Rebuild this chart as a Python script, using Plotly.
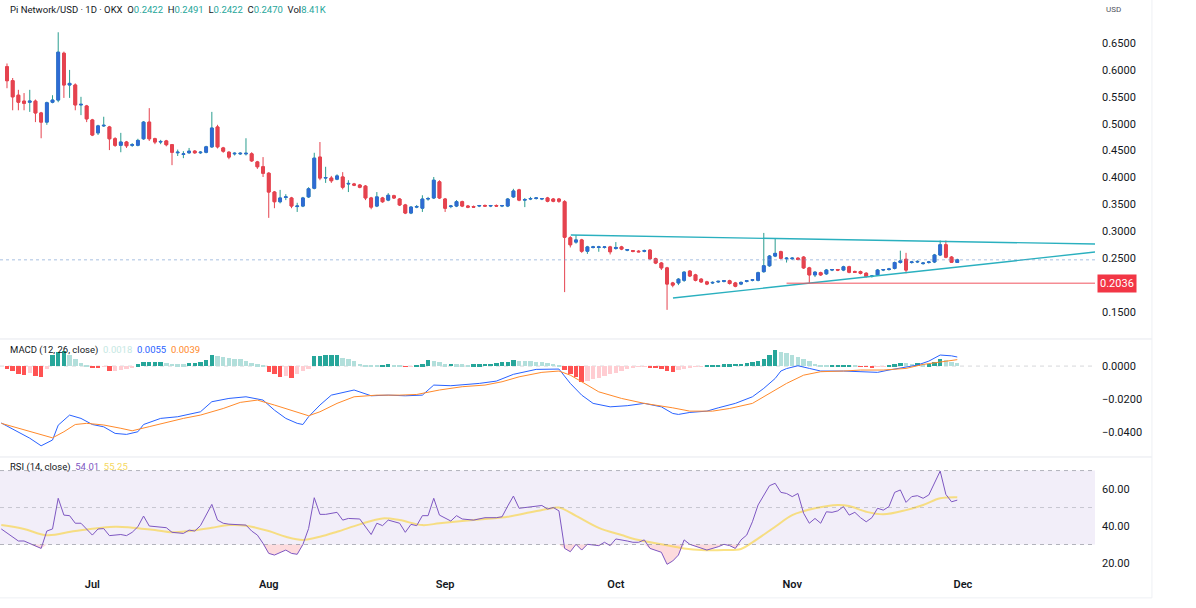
import plotly.graph_objects as go
import pandas as pd
import numpy as np

# ---------------- data ----------------
start_date = pd.Timestamp("2025-06-16")
n_days = 168

opens = [0.606,0.580,0.553,0.542,0.540,0.542,0.520,0.503,0.540,0.544,
         0.631,0.572,0.572,0.535,0.533,0.507,0.483,0.496,0.494,0.472,
         0.460,0.466,0.460,0.460,0.472,0.503,0.472,0.466,0.468,0.461,
         0.446,0.443,0.446,0.449,0.446,0.447,0.457,0.494,0.455,0.447,
         0.444,0.444,0.444,0.444,0.429,0.420,0.408,0.373,0.355,0.363,
         0.362,0.346,0.347,0.364,0.380,0.438,0.399,0.399,0.397,0.401,
         0.388,0.388,0.386,0.384,0.362,0.347,0.362,0.358,0.366,0.360,
         0.349,0.334,0.345,0.343,0.360,0.362,0.392,0.360,0.346,0.347,
         0.355,0.347,0.346,0.347,0.348,0.347,0.348,0.347,0.347,0.364,
         0.377,0.358,0.360,0.361,0.360,0.362,0.360,0.360,0.355,0.288,
         0.280,0.284,0.263,0.270,0.270,0.270,0.271,0.268,0.271,0.265,
         0.264,0.263,0.263,0.265,0.249,0.241,0.232,0.204,0.204,0.209,
         0.226,0.219,0.211,0.206,0.204,0.206,0.207,0.208,0.204,0.202,
         0.207,0.209,0.209,0.225,0.236,0.254,0.262,0.249,0.249,0.250,
         0.252,0.232,0.219,0.223,0.221,0.228,0.229,0.228,0.234,0.225,
         0.225,0.222,0.216,0.219,0.228,0.229,0.231,0.242,0.248,0.242,
         0.243,0.240,0.242,0.243,0.256,0.275,0.252,0.2422]
highs = [0.612,0.585,0.563,0.557,0.563,0.545,0.522,0.541,0.553,0.670,
         0.634,0.600,0.575,0.550,0.535,0.509,0.498,0.513,0.496,0.475,
         0.483,0.468,0.464,0.472,0.505,0.529,0.474,0.470,0.470,0.462,
         0.452,0.449,0.455,0.451,0.449,0.459,0.522,0.498,0.457,0.449,
         0.447,0.447,0.473,0.447,0.431,0.438,0.410,0.375,0.377,0.369,
         0.364,0.353,0.364,0.382,0.446,0.466,0.420,0.403,0.406,0.410,
         0.395,0.390,0.388,0.386,0.364,0.373,0.364,0.371,0.368,0.362,
         0.351,0.347,0.349,0.367,0.364,0.401,0.395,0.362,0.349,0.358,
         0.357,0.349,0.348,0.349,0.350,0.349,0.350,0.349,0.362,0.379,
         0.379,0.362,0.364,0.363,0.362,0.364,0.362,0.362,0.358,0.291,
         0.293,0.286,0.273,0.273,0.273,0.272,0.273,0.280,0.273,0.267,
         0.265,0.265,0.266,0.267,0.251,0.243,0.234,0.206,0.213,0.226,
         0.228,0.221,0.213,0.208,0.207,0.208,0.209,0.210,0.206,0.207,
         0.209,0.211,0.225,0.297,0.256,0.286,0.264,0.252,0.252,0.252,
         0.254,0.234,0.226,0.225,0.230,0.230,0.230,0.236,0.236,0.227,
         0.227,0.224,0.218,0.230,0.230,0.232,0.244,0.264,0.260,0.245,
         0.246,0.243,0.245,0.258,0.283,0.283,0.254,0.2491]
lows = [0.566,0.525,0.525,0.525,0.522,0.503,0.473,0.498,0.538,0.540,
        0.548,0.548,0.525,0.516,0.503,0.477,0.479,0.494,0.451,0.457,
        0.447,0.455,0.457,0.458,0.470,0.468,0.462,0.462,0.458,0.423,
        0.440,0.436,0.444,0.444,0.444,0.445,0.455,0.454,0.446,0.434,
        0.441,0.442,0.441,0.429,0.416,0.401,0.325,0.343,0.352,0.358,
        0.343,0.336,0.345,0.362,0.378,0.395,0.390,0.390,0.395,0.378,
        0.373,0.384,0.380,0.358,0.341,0.345,0.353,0.356,0.360,0.347,
        0.332,0.332,0.343,0.336,0.357,0.360,0.360,0.336,0.343,0.345,
        0.345,0.343,0.344,0.345,0.346,0.345,0.346,0.345,0.345,0.362,
        0.356,0.345,0.358,0.359,0.358,0.354,0.354,0.353,0.187,0.270,
        0.277,0.260,0.258,0.268,0.262,0.268,0.257,0.266,0.265,0.263,
        0.261,0.261,0.261,0.247,0.239,0.228,0.154,0.196,0.200,0.206,
        0.215,0.207,0.204,0.200,0.202,0.204,0.205,0.201,0.196,0.200,
        0.205,0.207,0.207,0.223,0.234,0.252,0.248,0.242,0.247,0.246,
        0.230,0.204,0.215,0.217,0.219,0.226,0.226,0.226,0.222,0.223,
        0.220,0.214,0.214,0.217,0.226,0.227,0.229,0.240,0.222,0.240,
        0.241,0.238,0.240,0.241,0.254,0.250,0.242,0.2422]
closes = [0.580,0.550,0.540,0.538,0.542,0.520,0.503,0.539,0.544,0.633,
          0.572,0.575,0.535,0.536,0.509,0.479,0.496,0.497,0.472,0.460,
          0.466,0.459,0.461,0.469,0.503,0.472,0.466,0.467,0.461,0.447,
          0.447,0.444,0.449,0.446,0.447,0.457,0.492,0.457,0.449,0.438,
          0.445,0.445,0.445,0.431,0.420,0.408,0.373,0.355,0.362,0.364,
          0.347,0.347,0.362,0.379,0.436,0.399,0.400,0.394,0.403,0.382,
          0.389,0.386,0.382,0.362,0.345,0.364,0.355,0.367,0.362,0.349,
          0.334,0.345,0.346,0.360,0.361,0.395,0.362,0.343,0.347,0.355,
          0.347,0.345,0.345,0.348,0.347,0.348,0.347,0.348,0.360,0.375,
          0.358,0.359,0.361,0.362,0.361,0.356,0.356,0.356,0.289,0.275,
          0.284,0.263,0.271,0.271,0.271,0.271,0.262,0.270,0.267,0.266,
          0.263,0.262,0.264,0.249,0.241,0.232,0.202,0.200,0.211,0.224,
          0.217,0.209,0.206,0.202,0.205,0.207,0.208,0.203,0.198,0.205,
          0.208,0.210,0.223,0.236,0.254,0.259,0.250,0.250,0.250,0.248,
          0.232,0.219,0.224,0.219,0.228,0.229,0.228,0.234,0.224,0.224,
          0.222,0.216,0.217,0.228,0.229,0.230,0.242,0.245,0.228,0.243,
          0.244,0.241,0.243,0.256,0.275,0.252,0.2425,0.2470]

macd_hist = [-0.0020,-0.0030,-0.0045,-0.0055,-0.0040,-0.0060,-0.0065,-0.0020,0.0067,0.0083,
             0.0091,0.0065,0.0040,0.0020,0.0005,-0.0006,-0.0008,-0.0005,-0.0030,-0.0028,
             -0.0022,-0.0015,-0.0008,0.0010,0.0025,0.0026,0.0026,0.0027,0.0020,0.0015,
             0.0012,0.0010,0.0016,0.0020,0.0025,0.0035,0.0065,0.0060,0.0055,0.0050,
             0.0045,0.0040,0.0030,0.0020,0.0010,0.0003,-0.0035,-0.0050,-0.0065,-0.0060,
             -0.0070,-0.0050,-0.0030,-0.0015,0.0060,0.0063,0.0065,0.0066,0.0067,0.0050,
             0.0040,0.0030,0.0015,0.0008,0.0003,0.0002,0.0008,0.0010,0.0006,0.0002,
             -0.0005,-0.0002,0.0002,0.0012,0.0035,0.0030,0.0022,0.0012,0.0015,0.0012,
             0.0010,0.0008,0.0010,0.0012,0.0013,0.0015,0.0018,0.0022,0.0025,0.0035,
             0.0031,0.0030,0.0028,0.0027,0.0025,0.0020,0.0015,0.0008,-0.0025,-0.0045,
             -0.0065,-0.0095,-0.0090,-0.0080,-0.0070,-0.0060,-0.0050,-0.0040,-0.0030,-0.0020,
             -0.0012,-0.0005,-0.0003,-0.0006,-0.0010,-0.0015,-0.0030,-0.0035,-0.0025,-0.0015,
             -0.0008,-0.0003,-0.0001,0.0003,0.0005,0.0008,0.0010,0.0012,0.0013,0.0015,
             0.0018,0.0022,0.0030,0.0045,0.0065,0.0095,0.0088,0.0078,0.0066,0.0055,
             0.0040,0.0028,0.0015,0.0006,0.0002,0.0003,0.0005,0.0007,0.0008,0.0002,
             -0.0002,-0.0004,-0.0006,-0.0003,-0.0001,0.0005,0.0010,0.0018,0.0016,0.0015,
             0.0016,0.0010,0.0012,0.0025,0.0042,0.0035,0.0025,0.0018]

macd_day = [-1,2,4,6,8,9,11,13,15,17,19,21,23,24,27,30,34,36,39,42,45,47,49,51,52,53,55,57,
            61,64,67,70,73,75,78,83,86,89,93,97,99,101,103,106,109,112,115,117,118,120,123,
            125,128,131,133,135,136,137,139,141,143,147,150,153,155,158,160,162,164,166,167]
macd_val = [-0.0345,-0.0398,-0.0437,-0.0483,-0.0448,-0.0358,-0.0297,-0.0317,-0.0354,-0.0368,
            -0.0408,-0.0414,-0.0398,-0.0354,-0.0317,-0.0307,-0.0277,-0.0216,-0.0196,-0.0186,
            -0.0206,-0.0267,-0.0317,-0.0347,-0.0354,-0.0307,-0.0236,-0.0176,-0.0145,-0.0180,
            -0.0176,-0.0180,-0.0176,-0.0115,-0.0119,-0.0105,-0.0091,-0.0050,-0.0020,-0.0018,
            -0.0105,-0.0176,-0.0226,-0.0247,-0.0240,-0.0226,-0.0247,-0.0287,-0.0293,-0.0281,
            -0.0273,-0.0253,-0.0226,-0.0186,-0.0135,-0.0075,-0.0030,-0.0015,0.0002,-0.0014,
            -0.0030,-0.0030,-0.0034,-0.0038,-0.0024,-0.0004,0.0006,0.0030,0.0067,0.0062,0.0055]

signal_day = [-1,3,6,8,10,12,14,17,20,22,25,28,31,34,38,41,44,47,51,53,55,58,61,65,69,72,
              76,80,84,87,90,94,97,99,101,104,108,112,117,120,124,127,131,134,137,140,143,
              147,150,154,158,161,164,167]
signal_val = [-0.0347,-0.0386,-0.0420,-0.0435,-0.0398,-0.0354,-0.0347,-0.0357,-0.0377,-0.0392,
              -0.0367,-0.0341,-0.0317,-0.0297,-0.0257,-0.0220,-0.0206,-0.0236,-0.0280,-0.0301,
              -0.0277,-0.0226,-0.0186,-0.0176,-0.0176,-0.0172,-0.0145,-0.0125,-0.0115,-0.0095,
              -0.0065,-0.0038,-0.0030,-0.0055,-0.0095,-0.0156,-0.0196,-0.0226,-0.0253,-0.0273,
              -0.0273,-0.0257,-0.0226,-0.0166,-0.0105,-0.0055,-0.0034,-0.0030,-0.0024,-0.0024,
              -0.0014,0.0010,0.0026,0.0039]

rsi_day = [-1,1,2,3,4,6,7,8,9,10,11,12,13,15,16,17,18,20,21,22,23,24,25,26,28,29,31,32,33,34,
           36,37,38,39,40,42,43,44,45,46,47,49,50,51,52,53,54,55,56,58,59,60,62,64,65,66,67,
           69,70,71,72,73,74,75,76,78,79,80,82,84,86,87,88,89,90,92,94,95,96,97,98,99,100,
           101,102,104,105,106,107,109,110,111,112,113,115,116,117,118,119,120,122,123,125,
           126,127,128,129,130,131,132,134,135,136,137,138,139,140,141,142,143,144,145,146,
           147,148,149,150,151,152,153,154,155,156,157,158,159,160,161,162,164,165,166,167]
rsi_val = [38.4,34.2,31.9,31.9,30.6,27.9,37.3,38.4,55.0,45.9,45.6,41.5,41.5,35.1,38.4,38.6,
           34.8,35.4,34.8,36.6,39.6,45.4,40.0,39.6,39.1,36.6,36.0,37.8,37.3,40.2,51.7,43.2,
           41.5,41.0,40.9,40.5,37.3,35.1,30.6,25.2,24.3,27.0,25.2,24.7,30.0,38.6,55.3,46.3,
           46.3,47.4,43.2,44.1,43.8,35.4,41.5,40.2,43.2,41.5,36.6,40.9,40.2,45.6,45.6,55.0,
           45.9,42.7,45.6,43.8,43.2,44.5,44.5,45.0,50.8,56.2,49.6,50.5,51.1,49.2,50.0,48.2,
           27.9,26.1,30.1,27.0,30.1,29.4,31.2,29.4,33.0,31.9,31.2,31.2,32.5,27.9,25.8,19.3,
           21.1,24.3,32.5,30.1,27.9,27.0,28.8,30.1,29.4,27.9,32.5,35.1,42.3,51.4,61.8,63.1,
           58.2,57.6,55.9,57.6,46.9,41.5,44.1,41.5,47.7,47.4,48.2,50.5,45.9,47.4,44.5,42.3,
           44.5,49.6,48.6,50.5,58.2,59.5,52.8,55.9,56.4,55.0,56.8,69.7,57.1,53.1,54.0]

rsi_ma_day = [-1,3,7,12,19,22,26,29,32,36,39,42,46,49,52,55,58,62,66,69,73,76,80,84,88,92,95,
              97,100,104,108,111,115,119,122,126,129,131,135,138,142,146,148,151,154,158,161,
              164,167]
rsi_ma_val = [40.5,38.4,35.0,37.3,39.6,39.1,37.8,36.6,37.3,39.1,40.5,40.2,37.3,34.2,32.5,34.2,
              36.9,40.9,44.1,43.2,40.5,41.5,42.7,43.8,45.0,47.4,49.2,50.0,45.5,39.0,35.1,32.4,
              30.1,27.9,27.0,27.0,27.6,31.2,39.6,45.9,49.6,51.4,50.8,47.7,46.3,48.6,51.4,55.0,
              55.6]

price_ticks = [0.15, 0.20, 0.25, 0.30, 0.35, 0.40, 0.45, 0.50, 0.55, 0.60, 0.65]
macd_ticks = [0.0, -0.02, -0.04]
rsi_ticks = [20, 40, 60]
month_ticks = ["2025-07-01", "2025-08-01", "2025-09-01", "2025-10-01", "2025-11-01", "2025-12-01"]
month_labels = ["Jul", "Aug", "Sep", "Oct", "Nov", "Dec"]

upper_trend_x = ["2025-09-23 02:00", "2025-12-24 05:00"]
upper_trend_y = [0.2931, 0.2764]
lower_trend_x = ["2025-10-11 01:00", "2025-12-24 05:00"]
lower_trend_y = [0.176, 0.2615]
support_level = 0.2036
support_start = "2025-10-31"
last_price = 0.2470
x_range = ["2025-06-14 18:30", "2025-12-24 05:00"]

# ---------------- styling ----------------
UP_BODY = "#2f6bd3"
UP_WICK = "#2a9d8f"
DOWN = "#e5434f"
TEAL_LINE = "#2ab0bf"
TXT = "#131722"
FONT = "Roboto"

dates = pd.date_range(start_date, periods=n_days, freq="D")
to_dates = lambda days: [start_date + pd.Timedelta(days=d) for d in days]

fig = go.Figure()

# candles (wicks)
fig.add_trace(go.Candlestick(
    x=dates, open=opens, high=highs, low=lows, close=closes,
    increasing=dict(line=dict(color=UP_WICK, width=1), fillcolor=UP_BODY),
    decreasing=dict(line=dict(color=DOWN, width=1), fillcolor=DOWN),
    xaxis="x", yaxis="y", showlegend=False, hoverinfo="skip"))
# candle bodies on top (body colour over the outline)
body_hi = [max(o, c) for o, c in zip(opens, closes)]
body_lo = [min(o, c) for o, c in zip(opens, closes)]
fig.add_trace(go.Candlestick(
    x=dates, open=opens, high=body_hi, low=body_lo, close=closes,
    increasing=dict(line=dict(color=UP_BODY, width=1), fillcolor=UP_BODY),
    decreasing=dict(line=dict(color=DOWN, width=1), fillcolor=DOWN),
    xaxis="x", yaxis="y", showlegend=False, hoverinfo="skip"))

# trend lines
fig.add_trace(go.Scatter(x=upper_trend_x, y=upper_trend_y, mode="lines",
                         line=dict(color=TEAL_LINE, width=1.4), yaxis="y", showlegend=False))
fig.add_trace(go.Scatter(x=lower_trend_x, y=lower_trend_y, mode="lines",
                         line=dict(color=TEAL_LINE, width=1.4), yaxis="y", showlegend=False))
fig.add_trace(go.Scatter(x=[support_start, x_range[1]], y=[support_level, support_level],
                         mode="lines", line=dict(color="#f0555f", width=1), yaxis="y",
                         showlegend=False))

# MACD histogram
hist_colors = []
prev = 0.0
for v in macd_hist:
    if v >= 0:
        hist_colors.append("#26a69a" if v >= prev else "#b2dfdb")
    else:
        hist_colors.append("#ff5252" if v < prev else "#ffcdd2")
    prev = v
fig.add_trace(go.Bar(x=dates, y=macd_hist, marker=dict(color=hist_colors, line=dict(width=0)),
                     width=0.78 * 86400000, yaxis="y2", showlegend=False))
fig.add_trace(go.Scatter(x=to_dates(macd_day), y=macd_val, mode="lines",
                         line=dict(color="#2962ff", width=1), yaxis="y2", showlegend=False))
fig.add_trace(go.Scatter(x=to_dates(signal_day), y=signal_val, mode="lines",
                         line=dict(color="#ff8a2b", width=1), yaxis="y2", showlegend=False))

# RSI oversold fill
rsi_x = to_dates(rsi_day)
fig.add_trace(go.Scatter(x=rsi_x, y=[30] * len(rsi_x), mode="lines",
                         line=dict(width=0, color="rgba(0,0,0,0)"), yaxis="y3", showlegend=False))
fig.add_trace(go.Scatter(x=rsi_x, y=np.minimum(np.array(rsi_val), 30), mode="lines",
                         line=dict(width=0, color="rgba(0,0,0,0)"), fill="tonexty",
                         fillcolor="rgba(242,54,69,0.18)", yaxis="y3", showlegend=False))
fig.add_trace(go.Scatter(x=to_dates(rsi_ma_day), y=rsi_ma_val, mode="lines",
                         line=dict(color="rgba(248,214,80,0.7)", width=2, shape="spline"),
                         yaxis="y3", showlegend=False))
fig.add_trace(go.Scatter(x=rsi_x, y=rsi_val, mode="lines",
                         line=dict(color="#7e57c2", width=1), yaxis="y3", showlegend=False))

# ---------------- layout ----------------
axis_font = dict(family=FONT, size=11, color=TXT)
common_y = dict(side="right", showgrid=False, zeroline=False, showline=False, ticks="",
                tickfont=axis_font, ticklabelstandoff=6, fixedrange=True)

band_dash = "4px,4px"
shapes = [
    # RSI band
    dict(type="rect", xref="paper", x0=0, x1=1, yref="y3", y0=30, y1=70,
         fillcolor="rgba(126,87,194,0.10)", line=dict(width=0), layer="below"),
    dict(type="line", xref="paper", x0=0, x1=1, yref="y3", y0=70, y1=70,
         line=dict(color="rgba(120,123,134,0.55)", width=1, dash=band_dash)),
    dict(type="line", xref="paper", x0=0, x1=1, yref="y3", y0=50, y1=50,
         line=dict(color="rgba(120,123,134,0.35)", width=1, dash=band_dash)),
    dict(type="line", xref="paper", x0=0, x1=1, yref="y3", y0=30, y1=30,
         line=dict(color="rgba(120,123,134,0.55)", width=1, dash=band_dash)),
    # MACD zero
    dict(type="line", xref="paper", x0=0, x1=1, yref="y2", y0=0, y1=0,
         line=dict(color="rgba(120,123,134,0.3)", width=1, dash=band_dash), layer="below"),
    # last price dotted
    dict(type="line", xref="paper", x0=0, x1=1, yref="y", y0=last_price, y1=last_price,
         line=dict(color="rgba(110,150,205,0.6)", width=1, dash="dot")),
    # pane separators and frame
    dict(type="line", xref="paper", yref="paper", x0=0, x1=1.052, y0=0.4115, y1=0.4115,
         line=dict(color="#e6e8ee", width=1)),
    dict(type="line", xref="paper", yref="paper", x0=0, x1=1.052, y0=0.2066, y1=0.2066,
         line=dict(color="#e6e8ee", width=1)),
    dict(type="line", xref="paper", yref="paper", x0=0, x1=1.052, y0=-0.038, y1=-0.038,
         line=dict(color="#eef0f4", width=1)),
    dict(type="line", xref="paper", yref="paper", x0=1.052, x1=1.052, y0=-0.038, y1=1.0,
         line=dict(color="#eef0f4", width=1)),
]

teal_val = "#26a69a"
sp = "\u00a0"
header = ("Pi Network/USD · 1D · OKX" + sp * 2 +
          f"O<span style='color:{teal_val}'>0.2422</span>" + sp * 2 +
          f"H<span style='color:{teal_val}'>0.2491</span>" + sp * 2 +
          f"L<span style='color:{teal_val}'>0.2422</span>" + sp * 2 +
          f"C<span style='color:{teal_val}'>0.2470</span>" + sp * 2 +
          f"Vol<span style='color:{teal_val}'>8.41K</span>")
macd_legend = ("MACD (12, 26, close)" + sp * 2 +
               "<span style='color:#c5e8e3'>0.0018</span>" + sp * 2 +
               "<span style='color:#2962ff'>0.0055</span>" + sp * 2 +
               "<span style='color:#ff8a2b'>0.0039</span>")
rsi_legend = ("RSI (14, close)" + sp * 2 +
              "<span style='color:#7e57c2'>54.01</span>" + sp * 2 +
              "<span style='color:#f6d860'>55.25</span>")

small_font = dict(family=FONT, size=9.5, color=TXT)
annotations = [
    dict(text=header, xref="paper", yref="paper", x=0.007, y=0.983, xanchor="left",
         yanchor="middle", showarrow=False, font=small_font),
    dict(text=macd_legend, xref="paper", yref="paper", x=0.007, y=0.392, xanchor="left",
         yanchor="middle", showarrow=False, font=small_font),
    dict(text=rsi_legend, xref="paper", yref="paper", x=0.007, y=0.189, xanchor="left",
         yanchor="middle", showarrow=False, font=small_font),
    dict(text="USD", xref="paper", yref="paper", x=1.008, y=0.983, xanchor="left",
         yanchor="middle", showarrow=False, font=dict(family=FONT, size=8, color="#50535e")),
    dict(text="0.2036", xref="paper", yref="y", x=1.0015, y=support_level, xanchor="left",
         yanchor="middle", showarrow=False, bgcolor="#f23645", borderpad=2,
         font=dict(family=FONT, size=11, color="white")),
]

fig.update_layout(
    width=1196, height=608,
    margin=dict(l=0, r=101, t=0, b=32),
    paper_bgcolor="white", plot_bgcolor="white",
    showlegend=False, bargap=0, hovermode=False,
    xaxis=dict(type="date", range=x_range, anchor="y3", showgrid=False, zeroline=False,
               showline=False, ticks="", tickvals=month_ticks, ticktext=month_labels,
               tickfont=dict(family=FONT, size=11, color=TXT, weight=600),
               rangeslider=dict(visible=False), fixedrange=True),
    yaxis=dict(domain=[0.4132, 1.0], range=[0.1017, 0.730], tickvals=price_ticks,
               tickformat=".4f", anchor="x", **common_y),
    yaxis2=dict(domain=[0.2083, 0.4097], range=[-0.0545, 0.0158], tickvals=macd_ticks,
                tickformat=".4f", anchor="x", **common_y),
    yaxis3=dict(domain=[0.0, 0.2049], range=[12.97, 76.8], tickvals=rsi_ticks,
                tickformat=".2f", anchor="x", **common_y),
    shapes=shapes,
    annotations=annotations,
)

fig.write_html("out.html")
